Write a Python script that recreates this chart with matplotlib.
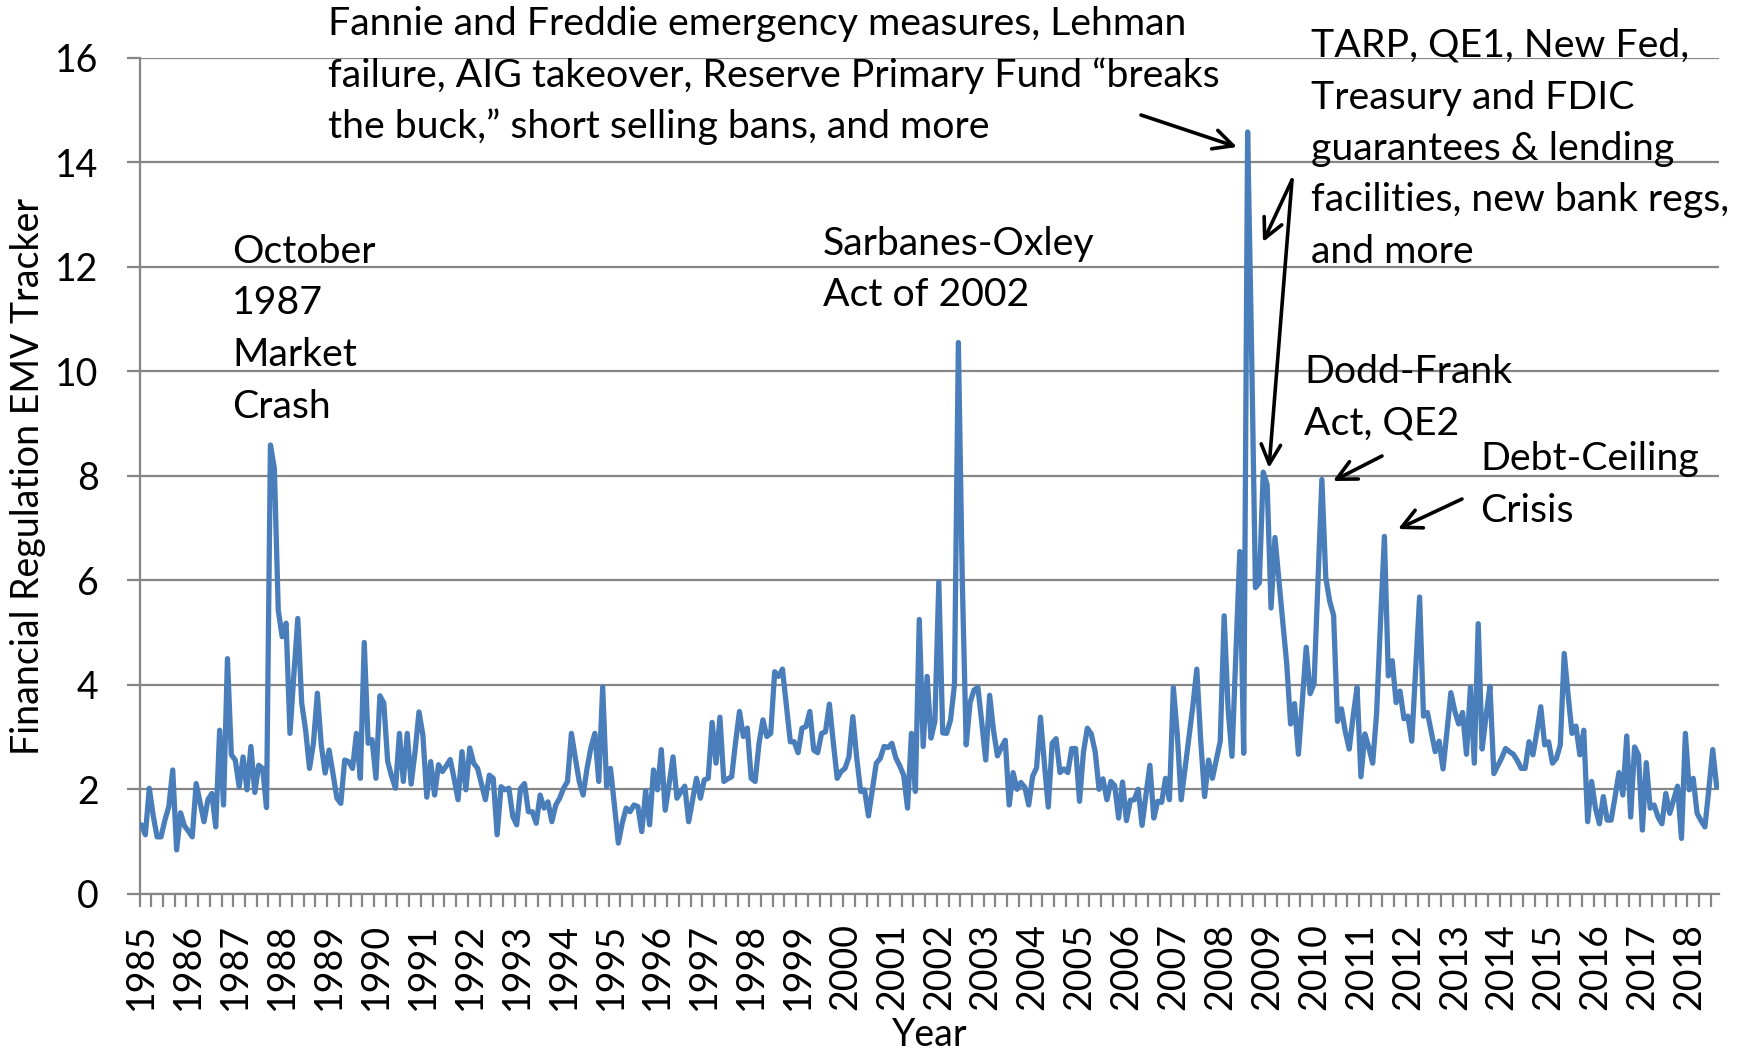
import numpy as np
import matplotlib
matplotlib.use('Agg')
import matplotlib.pyplot as plt

# monthly values, Jan 1985 .. Aug 2018
v1985 = [1.32, 1.13, 2.02, 1.5, 1.09, 1.09, 1.41, 1.67, 2.37, 0.84, 1.55, 1.3]
v1986 = [1.2, 1.09, 2.11, 1.75, 1.38, 1.8, 1.92, 1.28, 3.13, 1.7, 4.5, 2.66]
v1987 = [2.56, 2.05, 2.62, 1.99, 2.82, 1.94, 2.46, 2.4, 1.65, 8.59, 8.14, 5.43]
v1988 = [4.92, 5.18, 3.07, 4.2, 5.27, 3.65, 3.13, 2.4, 2.88, 3.84, 2.85, 2.31]
v1989 = [2.75, 2.3, 1.83, 1.73, 2.56, 2.53, 2.4, 3.07, 2.21, 4.81, 2.88, 2.95]
v1990 = [2.21, 3.79, 3.65, 2.53, 2.25, 2.02, 3.07, 2.15, 3.07, 2.1, 2.72, 3.48]
v1991 = [3.04, 1.85, 2.53, 1.89, 2.47, 2.34, 2.45, 2.57, 2.2, 1.8, 2.72, 1.99]
v1992 = [2.79, 2.5, 2.4, 2.1, 1.8, 2.27, 2.21, 1.13, 2.05, 1.99, 2.02, 1.48]
v1993 = [1.32, 2.02, 2.11, 1.57, 1.57, 1.35, 1.89, 1.64, 1.76, 1.38, 1.7, 1.83]
v1994 = [2.02, 2.15, 3.07, 2.6, 2.15, 1.89, 2.4, 2.8, 3.07, 2.15, 3.96, 2.05]
v1995 = [2.4, 1.7, 0.97, 1.35, 1.64, 1.57, 1.7, 1.67, 1.19, 1.97, 1.32, 2.37]
v1996 = [1.99, 2.76, 1.6, 2.1, 2.62, 1.83, 1.95, 2.06, 1.38, 1.8, 2.21, 1.83]
v1997 = [2.18, 2.21, 3.28, 2.5, 3.38, 2.15, 2.2, 2.24, 2.9, 3.49, 3.01, 3.17]
v1998 = [2.21, 2.15, 2.88, 3.33, 3.01, 3.07, 4.25, 4.16, 4.3, 3.6, 2.91, 2.91]
v1999 = [2.7, 3.17, 3.2, 3.49, 2.75, 2.7, 3.07, 3.1, 3.63, 2.9, 2.21, 2.34]
v2000 = [2.4, 2.62, 3.39, 2.6, 1.96, 1.99, 1.49, 2.0, 2.5, 2.59, 2.82, 2.8]
v2001 = [2.88, 2.6, 2.45, 2.27, 1.64, 3.07, 1.96, 5.25, 2.82, 4.16, 2.98, 3.3]
v2002 = [5.97, 3.08, 3.07, 3.33, 4.0, 10.55, 6.0, 2.85, 3.66, 3.9, 3.95, 3.27]
v2003 = [2.56, 3.8, 3.12, 2.64, 2.8, 2.94, 1.7, 2.32, 2.0, 2.13, 2.04, 1.7]
v2004 = [2.25, 2.41, 3.38, 2.5, 1.66, 2.88, 2.97, 2.32, 2.39, 2.32, 2.78, 2.78]
v2005 = [1.77, 2.71, 3.17, 3.06, 2.72, 2.0, 2.2, 1.8, 2.15, 2.07, 1.45, 2.14]
v2006 = [1.4, 1.79, 1.8, 2.0, 1.31, 1.9, 2.46, 1.45, 1.77, 1.75, 2.21, 1.8]
v2007 = [3.95, 3.06, 1.8, 2.4, 3.0, 3.6, 4.3, 2.94, 1.86, 2.56, 2.21, 2.56]
v2008 = [2.92, 5.32, 3.55, 2.63, 4.6, 6.55, 2.69, 14.58, 10.5, 5.86, 5.95, 8.07]
v2009 = [7.83, 5.47, 6.82, 6.0, 5.2, 4.41, 3.25, 3.64, 2.67, 3.7, 4.72, 3.83]
v2010 = [4.02, 6.0, 7.93, 6.05, 5.6, 5.33, 3.3, 3.54, 3.1, 2.77, 3.4, 3.95]
v2011 = [2.24, 3.06, 2.8, 2.5, 3.45, 5.2, 6.84, 4.17, 4.46, 3.66, 3.88, 3.35]
v2012 = [3.4, 2.92, 4.3, 5.68, 3.4, 3.47, 3.1, 2.72, 2.92, 2.39, 3.1, 3.85]
v2013 = [3.5, 3.25, 3.47, 2.67, 3.95, 2.5, 5.17, 2.77, 3.4, 3.97, 2.3, 2.45]
v2014 = [2.6, 2.78, 2.72, 2.67, 2.55, 2.4, 2.4, 2.91, 2.66, 3.1, 3.58, 2.85]
v2015 = [2.91, 2.5, 2.59, 2.85, 4.6, 3.8, 3.07, 3.21, 2.66, 3.13, 1.38, 2.15]
v2016 = [1.64, 1.34, 1.86, 1.41, 1.41, 1.85, 2.32, 1.89, 3.02, 1.47, 2.81, 2.66]
v2017 = [1.22, 2.51, 1.64, 1.7, 1.47, 1.34, 1.92, 1.54, 1.8, 2.06, 1.06, 3.07]
v2018 = [1.99, 2.21, 1.54, 1.4, 1.28, 2.0, 2.76, 2.05]

years = list(range(1985, 2019))
emv = np.concatenate([v1985, v1986, v1987, v1988, v1989, v1990, v1991, v1992,
                      v1993, v1994, v1995, v1996, v1997, v1998, v1999, v2000,
                      v2001, v2002, v2003, v2004, v2005, v2006, v2007, v2008,
                      v2009, v2010, v2011, v2012, v2013, v2014, v2015, v2016,
                      v2017, v2018])
months = np.arange(len(emv))

## ------------------ figure setup ------------------
W, H = 1750, 1052
plt.rcParams['font.family'] = ['Lato', 'DejaVu Sans']
fig = plt.figure(figsize=(W/100, H/100), dpi=100)
ax = fig.add_axes([139.5/W, 1-893.8/H, (1718.6-139.5)/W, (893.8-57.8)/H])

grey = '#868686'
ax.plot(months, emv, color='#4A7EBB', lw=3.8, solid_joinstyle='round', solid_capstyle='round', zorder=3)

ax.set_xlim(-0.5, len(emv)-0.5)
ax.set_ylim(0, 16)
ax.set_yticks(np.arange(0, 17, 2))
ax.yaxis.grid(True, color=grey, lw=1.6)
ax.set_axisbelow(True)
for s in ['top', 'right']:
    ax.spines[s].set_visible(False)
for s in ['left', 'bottom']:
    ax.spines[s].set_color(grey)
    ax.spines[s].set_linewidth(1.6)

ax.set_xticks([12*i for i in range(len(years))])
ax.set_xticklabels([str(y) for y in years], rotation=90)
ax.set_xticks(np.arange(-0.5, len(emv), 3), minor=True)
ax.tick_params(axis='x', which='major', length=0, pad=21, labelsize=27)
ax.tick_params(axis='x', which='minor', length=9.5, width=1.6, color=grey)
ax.tick_params(axis='y', length=9.5, width=1.6, color=grey, pad=20, labelsize=27)

fig.text(28/W, 1-476/H, 'Financial Regulation EMV Tracker', rotation=90,
         ha='center', va='center', fontsize=27)
fig.text(930/W, 1-1046/H, 'Year', ha='center', va='baseline', fontsize=27)

## ------------------ annotations ------------------
def put_lines(lines, x, y0, step=51.5, size=28.3):
    for i, s in enumerate(lines):
        fig.text(x/W, 1-(y0+i*step)/H, s, ha='left', va='baseline', fontsize=size)

put_lines(['Fannie and Freddie emergency measures, Lehman',
           'failure, AIG takeover, Reserve Primary Fund \u201cbreaks',
           'the buck,\u201d short selling bans, and more'], 328, 35)
put_lines(['TARP, QE1, New Fed,', 'Treasury and FDIC', 'guarantees & lending',
           'facilities, new bank regs,', 'and more'], 1311, 57)
put_lines(['October', '1987', 'Market', 'Crash'], 232, 263)
put_lines(['Sarbanes-Oxley', 'Act of 2002'], 823, 255)
put_lines(['Dodd-Frank', 'Act, QE2'], 1304, 383)
put_lines(['Debt-Ceiling', 'Crisis'], 1480, 470)

def arrow(x0, y0, x1, y1):
    ax.annotate('', xy=(x1, H-y1), xytext=(x0, H-y0), xycoords='figure pixels',
                textcoords='figure pixels', annotation_clip=False,
                arrowprops=dict(arrowstyle='->,head_length=0.7,head_width=0.35',
                                mutation_scale=20, lw=2.6, color='black',
                                shrinkA=0, shrinkB=0))

arrow(1141, 115, 1237, 147)
arrow(1292, 180, 1263, 242)
arrow(1292, 180, 1269, 468)
arrow(1382, 456, 1333, 481)
arrow(1462, 499, 1398, 529)

fig.savefig('out.png', dpi=100)
